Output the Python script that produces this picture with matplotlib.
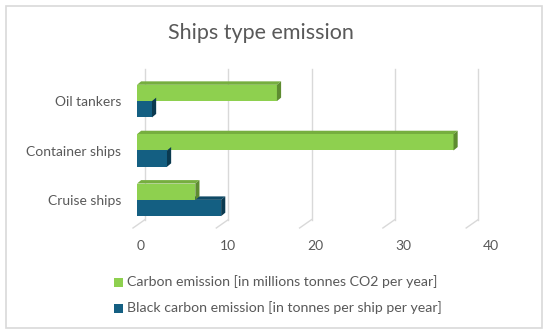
import numpy as np
import matplotlib
matplotlib.use('Agg')
import matplotlib.pyplot as plt
from matplotlib.patches import Polygon, Rectangle
from matplotlib.transforms import offset_copy

# data
ships = ['Cruise ships', 'Container ships', 'Oil tankers']
carbon = [7.0, 38.0, 16.8]          # millions tonnes CO2 per year
black_carbon = [10.1, 3.6, 1.8]     # tonnes per ship per year
ticks = [0, 10, 20, 30, 40]
labels = ['Carbon emission [in millions tonnes CO2 per year]',
          'Black carbon emission [in tonnes per ship per year]']

green = '#8ED04F'
green_top = '#76AE3F'
green_side = '#5E8C31'
blue = '#145F82'
blue_top = '#0F4A66'
blue_side = '#0B3A50'
grey = '#595959'

plt.rcParams['font.family'] = ['Lato', 'DejaVu Sans']

W, H = 550, 334
fig = plt.figure(figsize=(W / 100, H / 100), dpi=100)

# outer frame
fig.patches.append(Rectangle((6 / W, 6 / H), 536 / W, 322 / H, transform=fig.transFigure,
                             fc='none', ec='#D9D9D9', lw=1.2, zorder=-1))

fig.text(261 / W, 1 - 33 / H, 'Ships type emission', ha='center', va='center',
         fontsize=15.5, color=grey)

x0, x1 = 137, 478.5
y_top, y_bot = 69, 228
ax = fig.add_axes([x0 / W, 1 - y_bot / H, (x1 - x0) / W, (y_bot - y_top) / H])
ax.set_xlim(0, 41)
ax.set_ylim(-0.57, 2.65)
ax.patch.set_visible(False)
for s in ax.spines.values():
    s.set_visible(False)
ax.set_xticks([])
ax.set_yticks(np.arange(len(ships)))
ax.set_yticklabels(ships, fontsize=10, color=grey)
ax.tick_params(axis='y', length=0, pad=11.5)
for lab in ax.get_yticklabels():
    lab.set_transform(lab.get_transform() + offset_copy(fig.dpi_scale_trans, fig=fig, x=0, y=-3, units='dots') - fig.dpi_scale_trans)

# back wall gridlines with slanted floor lines
back = offset_copy(ax.transData, fig=fig, x=8, y=0, units='dots')
front = offset_copy(ax.transData, fig=fig, x=-4, y=0, units='dots')
for t in ticks:
    ax.plot([t, t], [2.65, -0.4], color='#D9D9D9', lw=1, transform=back, clip_on=False, zorder=0)
    ax.plot([t + 1.44, t], [-0.4, -0.57], color='#D9D9D9', lw=1, transform=front,
            clip_on=False, zorder=0)

h = 0.33
y = np.arange(len(ships))
ax.barh(y + h / 2, carbon, height=h, color=green, zorder=3)
ax.barh(y - h / 2, black_carbon, height=h, color=blue, zorder=3)

# 3D look: top and side faces
dx, dy = 0.5, 0.07
for vals, off, ctop, cside in [(carbon, h / 2, green_top, green_side),
                               (black_carbon, -h / 2, blue_top, blue_side)]:
    for yi, v in zip(y, vals):
        yb, yt = yi + off - h / 2, yi + off + h / 2
        ax.add_patch(Polygon([(0, yt), (v, yt), (v + dx, yt + dy), (dx, yt + dy)],
                             closed=True, fc=ctop, ec='none', zorder=2))
        ax.add_patch(Polygon([(v, yb), (v, yt), (v + dx, yt + dy), (v + dx, yb + dy)],
                             closed=True, fc=cside, ec='none', zorder=4))

# tick labels axis (perspective spread)
axl = fig.add_axes([140.7 / W, 1 - 240 / H, 350 / W, 0.001])
axl.set_xlim(0, 40)
axl.set_xticks(ticks)
axl.set_xticklabels([str(t) for t in ticks], fontsize=10, color=grey)
axl.set_yticks([])
axl.tick_params(axis='x', length=0, pad=0)
for s in axl.spines.values():
    s.set_visible(False)
axl.patch.set_visible(False)

# legend
for i, (lab, c) in enumerate(zip(labels, [green, blue])):
    yy = 1 - (282 + 26 * i) / H
    fig.patches.append(Rectangle((114 / W, yy - 4.5 / H), 9 / W, 9 / H,
                                 transform=fig.transFigure, fc=c, ec='none'))
    fig.text(127 / W, yy, lab, ha='left', va='center', fontsize=10.2, color=grey)

fig.savefig('out.png', dpi=100)
